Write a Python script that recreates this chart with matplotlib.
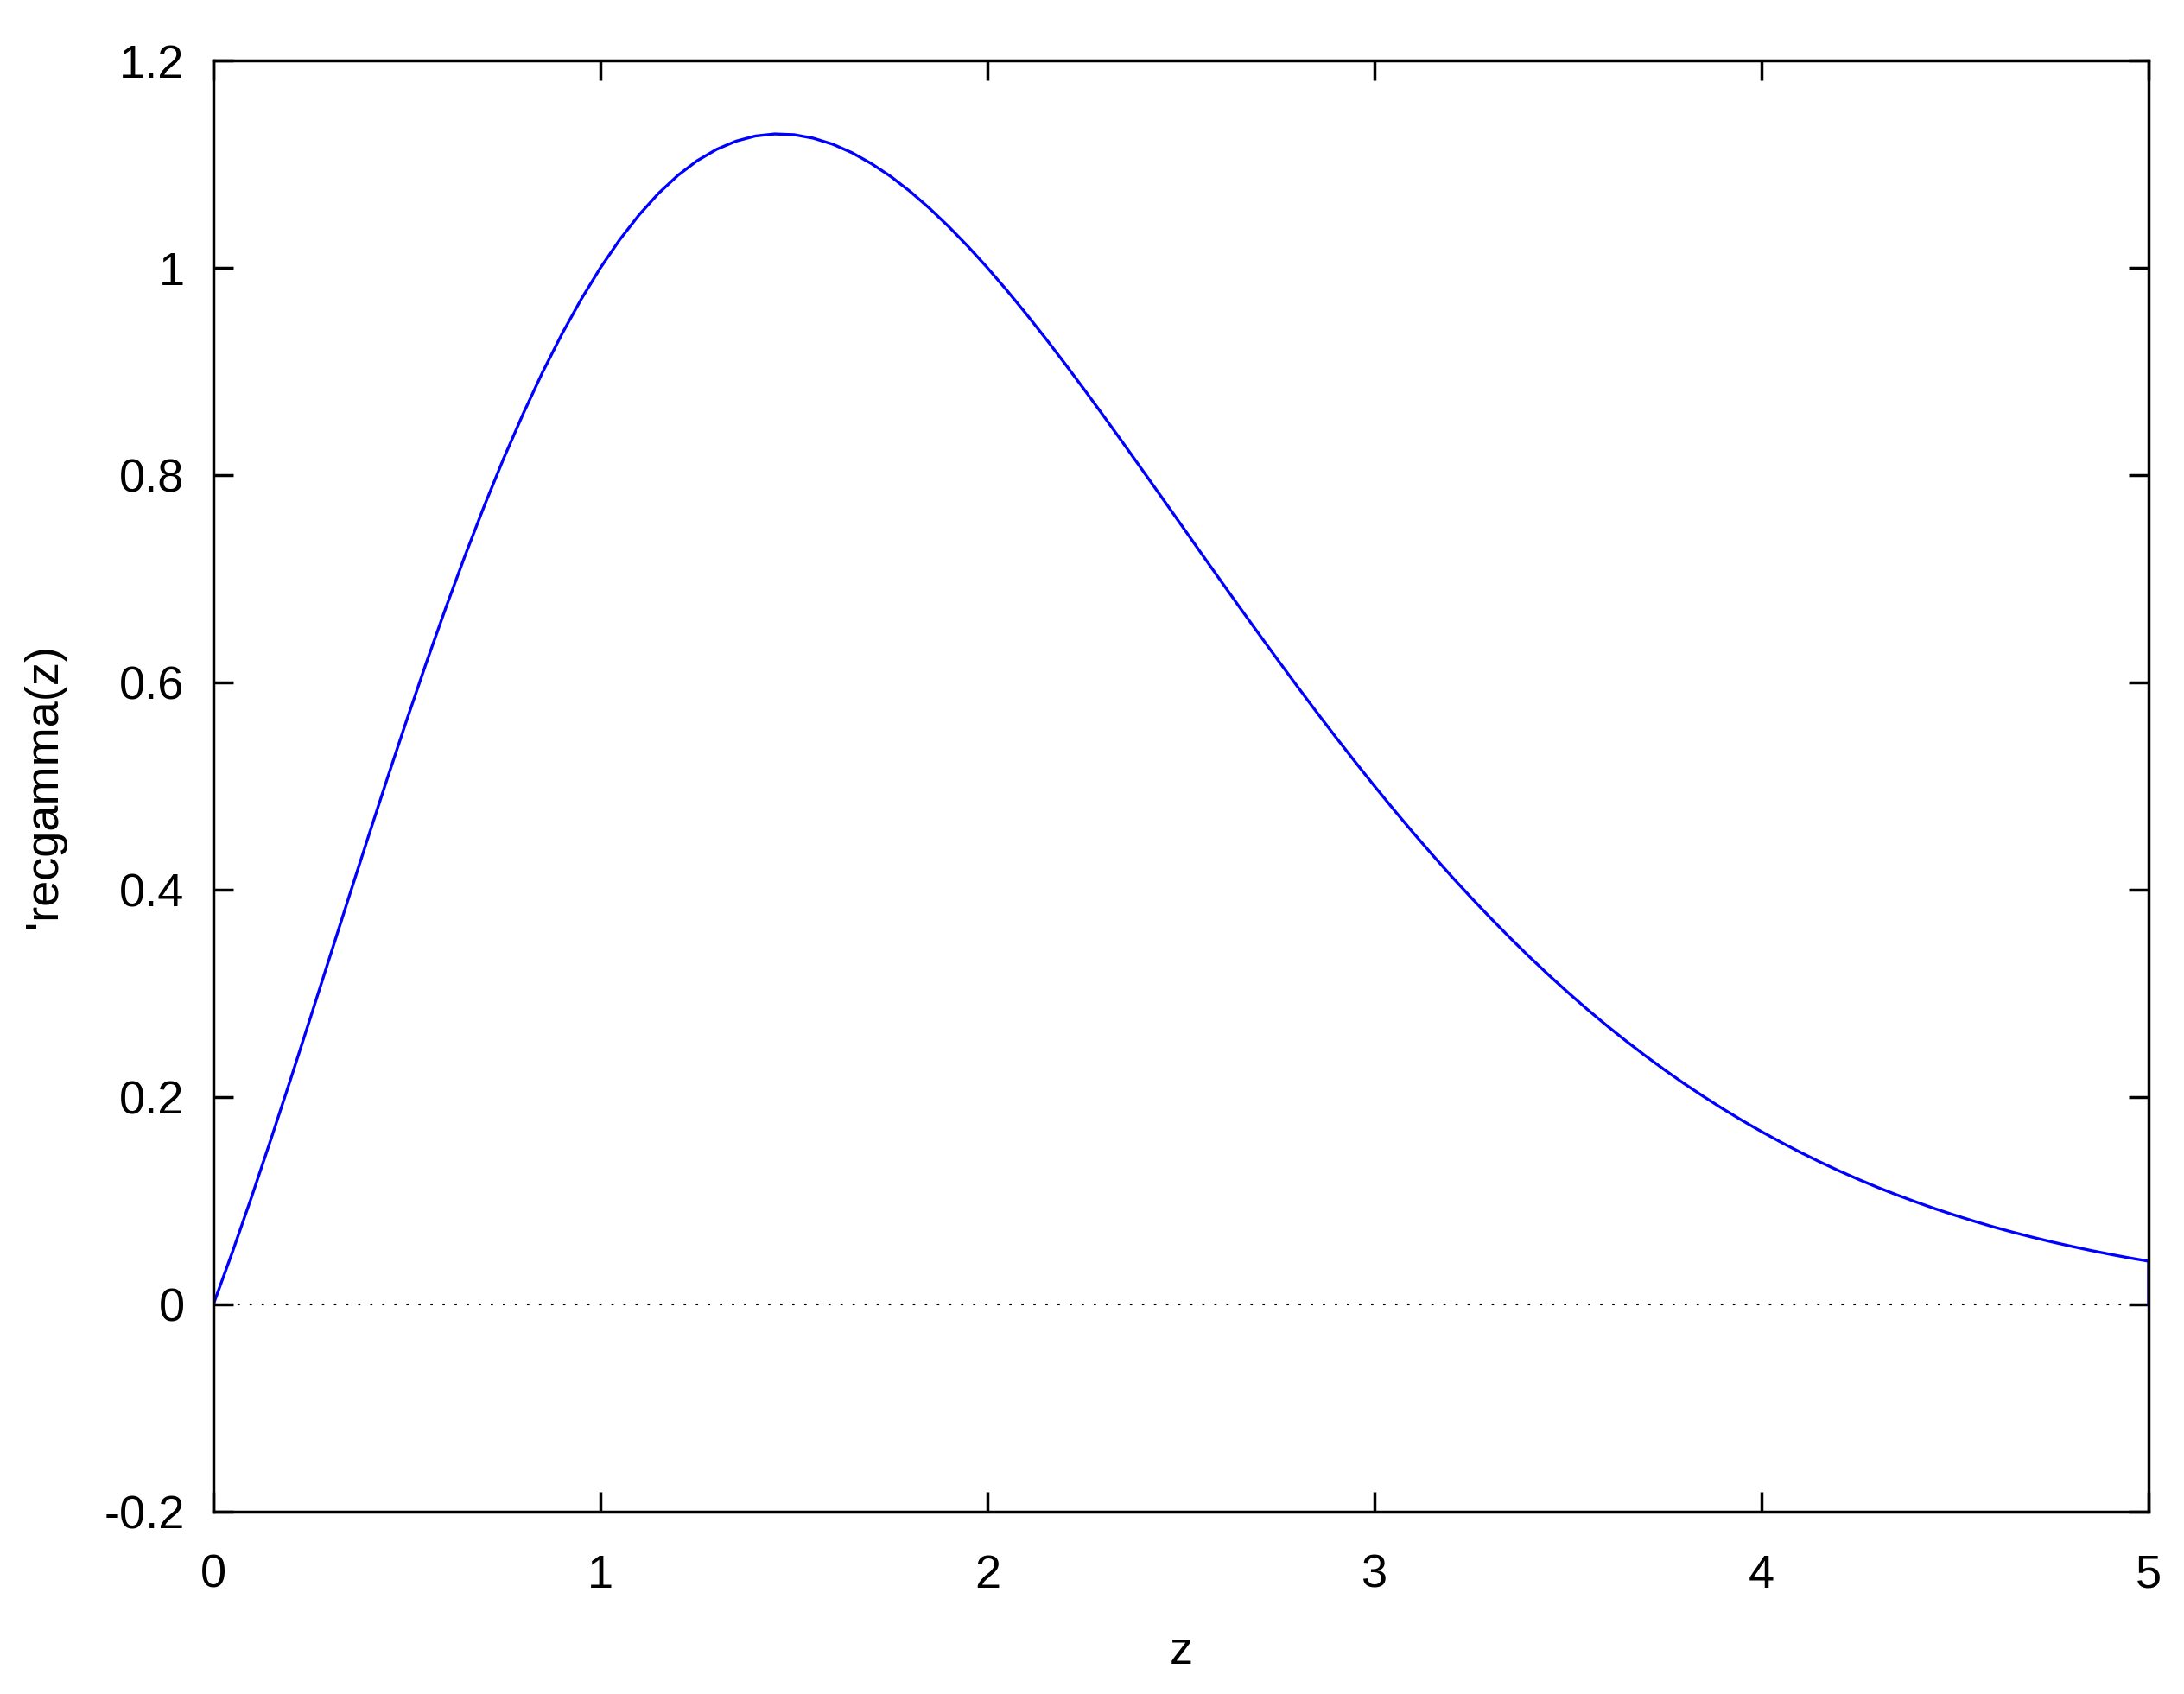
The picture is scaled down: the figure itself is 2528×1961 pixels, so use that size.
import matplotlib
matplotlib.use("Agg")
import matplotlib.pyplot as plt

# Data (z, 'recgamma(z)); last point closes the curve down to 0 at z=5
z = [0.00, 0.05, 0.10, 0.15, 0.20, 0.25, 0.30, 0.35, 0.40, 0.45,
     0.50, 0.55, 0.60, 0.65, 0.70, 0.75, 0.80, 0.85, 0.90, 0.95,
     1.00, 1.05, 1.10, 1.15, 1.20, 1.25, 1.30, 1.35, 1.40, 1.45,
     1.50, 1.55, 1.60, 1.65, 1.70, 1.75, 1.80, 1.85, 1.90, 1.95,
     2.00, 2.05, 2.10, 2.15, 2.20, 2.25, 2.30, 2.35, 2.40, 2.45,
     2.50, 2.55, 2.60, 2.65, 2.70, 2.75, 2.80, 2.85, 2.90, 2.95,
     3.00, 3.05, 3.10, 3.15, 3.20, 3.25, 3.30, 3.35, 3.40, 3.45,
     3.50, 3.55, 3.60, 3.65, 3.70, 3.75, 3.80, 3.85, 3.90, 3.95,
     4.00, 4.05, 4.10, 4.15, 4.20, 4.25, 4.30, 4.35, 4.40, 4.45,
     4.50, 4.55, 4.60, 4.65, 4.70, 4.75, 4.80, 4.85, 4.90, 4.95,
     5.00, 5.00]
recgamma = [0.0000, 0.0514, 0.1051, 0.1608, 0.2178, 0.2758, 0.3343, 0.3928, 0.4508, 0.5081,
            0.5642, 0.6188, 0.6715, 0.7221, 0.7704, 0.8161, 0.8589, 0.8989, 0.9358, 0.9695,
            1.0000, 1.0272, 1.0511, 1.0718, 1.0891, 1.1033, 1.1142, 1.1221, 1.1271, 1.1291,
            1.1284, 1.1250, 1.1192, 1.1110, 1.1005, 1.0881, 1.0737, 1.0575, 1.0397, 1.0205,
            1.0000, 0.9783, 0.9556, 0.9320, 0.9076, 0.8826, 0.8571, 0.8312, 0.8050, 0.7787,
            0.7523, 0.7258, 0.6995, 0.6733, 0.6474, 0.6218, 0.5965, 0.5716, 0.5472, 0.5234,
            0.5000, 0.4772, 0.4550, 0.4335, 0.4125, 0.3923, 0.3727, 0.3537, 0.3354, 0.3178,
            0.3009, 0.2846, 0.2690, 0.2541, 0.2398, 0.2261, 0.2130, 0.2006, 0.1887, 0.1774,
            0.1667, 0.1565, 0.1468, 0.1376, 0.1289, 0.1207, 0.1129, 0.1056, 0.0987, 0.0921,
            0.0860, 0.0802, 0.0747, 0.0696, 0.0648, 0.0603, 0.0561, 0.0521, 0.0484, 0.0449,
            0.0417, 0.0000]

x_ticks = [0, 1, 2, 3, 4, 5]
x_tick_labels = ["0", "1", "2", "3", "4", "5"]
y_ticks = [-0.2, 0.0, 0.2, 0.4, 0.6, 0.8, 1.0, 1.2]
y_tick_labels = ["-0.2", "0", "0.2", "0.4", "0.6", "0.8", "1", "1.2"]

plt.rcParams['font.family'] = ['Liberation Sans', 'DejaVu Sans']

W, H = 2528, 1961
fig = plt.figure(figsize=(W / 100, H / 100), dpi=100)
left, right, top, bottom = 247, 2487, 70, 1750
ax = fig.add_axes([left / W, 1 - bottom / H, (right - left) / W, (bottom - top) / H])

ax.plot([0, 5], [0, 0], color='black', lw=1.5, linestyle=(0, (1.3, 5.4)), zorder=1)
ax.plot(z, recgamma, color='#0000ff', lw=2.4, zorder=2, solid_joinstyle='round')

ax.set_xlim(0, 5)
ax.set_ylim(-0.2, 1.2)
ax.set_xticks(x_ticks)
ax.set_xticklabels(x_tick_labels)
ax.set_yticks(y_ticks)
ax.set_yticklabels(y_tick_labels)

for s in ax.spines.values():
    s.set_linewidth(2.5)
    s.set_color('black')

ax.tick_params(axis='both', which='major', direction='in', length=16.5, width=2.5,
               top=True, right=True, labelsize=39, colors='black')
ax.tick_params(axis='x', pad=35)
ax.tick_params(axis='y', pad=24)

fig.text(1367 / W, 1 - 1926 / H, "z", ha='center', va='baseline', fontsize=39)
fig.text(51 / W, 1 - 910 / H, "'recgamma(z)", ha='center', va='center',
         rotation=90, fontsize=39)

fig.savefig("out.png", dpi=100, facecolor='white')
